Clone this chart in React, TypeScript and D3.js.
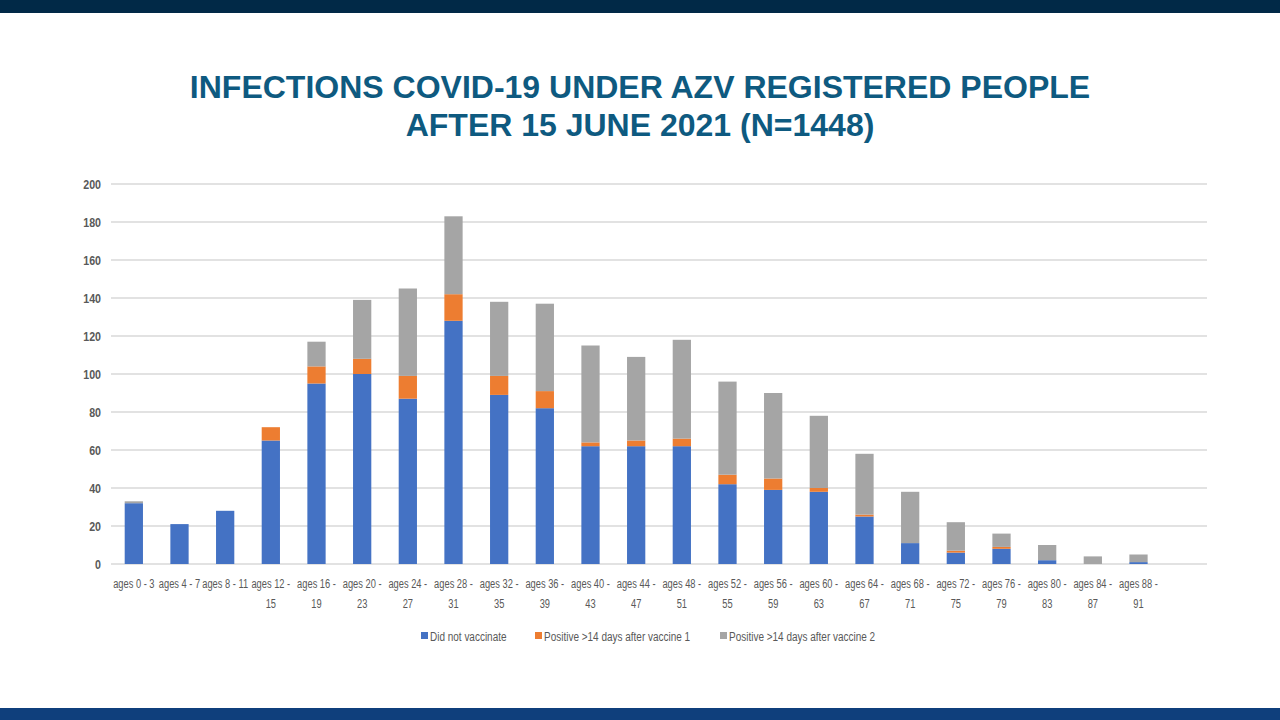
import React from "react";
import * as d3 from "d3";

const categories = [
  ["ages 0 - 3"], ["ages 4 - 7"], ["ages 8 - 11"], ["ages 12 -", "15"], ["ages 16 -", "19"],
  ["ages 20 -", "23"], ["ages 24 -", "27"], ["ages 28 -", "31"], ["ages 32 -", "35"], ["ages 36 -", "39"],
  ["ages 40 -", "43"], ["ages 44 -", "47"], ["ages 48 -", "51"], ["ages 52 -", "55"], ["ages 56 -", "59"],
  ["ages 60 -", "63"], ["ages 64 -", "67"], ["ages 68 -", "71"], ["ages 72 -", "75"], ["ages 76 -", "79"],
  ["ages 80 -", "83"], ["ages 84 -", "87"], ["ages 88 -", "91"],
];
const didNotVaccinate = [32, 21, 28, 65, 95, 100, 87, 128, 89, 82, 62, 62, 62, 42, 39, 38, 25, 11, 6, 8, 2, 0, 1];
const afterVaccine1 = [0, 0, 0, 7, 9, 8, 12, 14, 10, 9, 2, 3, 4, 5, 6, 2, 1, 0, 1, 1, 0, 0, 0];
const afterVaccine2 = [1, 0, 0, 0, 13, 31, 46, 41, 39, 46, 51, 44, 52, 49, 45, 38, 32, 27, 15, 7, 8, 4, 4];
const seriesNames = ["Did not vaccinate", "Positive >14 days after vaccine 1", "Positive >14 days after vaccine 2"];
const seriesColors = ["#4472C4", "#ED7D31", "#A5A5A5"];
const yTicks = [0, 20, 40, 60, 80, 100, 120, 140, 160, 180, 200];
const titleLines = ["INFECTIONS COVID-19 UNDER AZV REGISTERED PEOPLE", "AFTER 15 JUNE 2021 (N=1448)"];

const W = 1280, H = 720;
const left = 111, right = 1207, top = 184, bottom = 564;
const labelFont = "'Liberation Sans', Arial, sans-serif";

function SText({ x, y, sx, anchor, children, ...rest }: any) {
  return (
    <g transform={`translate(${x},${y}) scale(${sx},1)`}>
      <text x={0} y={0} textAnchor={anchor} fontFamily={labelFont} {...rest}>{children}</text>
    </g>
  );
}

export default function App() {
  const keys = categories.map((_, i) => String(i));
  const domain = [...keys, "empty"];
  const x = d3.scaleBand().domain(domain).range([left, right]).paddingInner(0.6).paddingOuter(0.3);
  const y = d3.scaleLinear().domain([0, 200]).range([bottom, top]);
  const rows = categories.map((_, i) => ({ key: keys[i], s0: didNotVaccinate[i], s1: afterVaccine1[i], s2: afterVaccine2[i] }));
  const stacked = d3.stack<any>().keys(["s0", "s1", "s2"])(rows);

  const legendX = [421, 535, 720];

  return (
    <svg width={W} height={H} style={{ display: "block", position: "absolute", left: 0, top: 0 }}>
      <rect x={0} y={0} width={W} height={H} fill="#fff" />
      <rect x={0} y={0} width={W} height={13} fill="#012947" />
      <rect x={0} y={708} width={W} height={12} fill="#0f3f7c" />
      {titleLines.map((t, i) => (
        <text key={i} x={640} y={98 + i * 38} textAnchor="middle" fontFamily="'Liberation Sans', Arial, sans-serif"
          fontWeight="bold" fontSize={32} fill="#0e5a80">{t}</text>
      ))}
      {yTicks.map((t) => (
        <g key={t}>
          <line x1={left} x2={right} y1={y(t)} y2={y(t)} stroke="#d9d9d9" strokeWidth={1.3} />
          <SText x={101} y={y(t) + 4.5} sx={0.82} anchor="end" fontSize={13} fontWeight="bold" fill="#595959">{t}</SText>
        </g>
      ))}
      {stacked.map((layer, si) => (
        <g key={si} fill={seriesColors[si]}>
          {layer.map((d: any, i: number) => {
            const h = y(d[0]) - y(d[1]);
            if (h <= 0) return null;
            return <rect key={i} x={x(keys[i])!} y={y(d[1])} width={x.bandwidth()} height={h} />;
          })}
        </g>
      ))}
      {categories.map((lines, i) => {
        const cx = x(keys[i])! + x.bandwidth() / 2;
        return (
          <g key={i}>
            {lines.map((l, j) => (
              <SText key={j} x={cx} y={587.5 + j * 20} sx={0.69} anchor="middle" fontSize={13.5} fill="#595959">{l}</SText>
            ))}
          </g>
        );
      })}
      {seriesNames.map((n, i) => (
        <g key={i}>
          <rect x={legendX[i]} y={632} width={7} height={7} fill={seriesColors[i]} />
          <SText x={legendX[i] + 9} y={641} sx={0.74} anchor="start" fontSize={13.5} fill="#595959">{n}</SText>
        </g>
      ))}
    </svg>
  );
}
